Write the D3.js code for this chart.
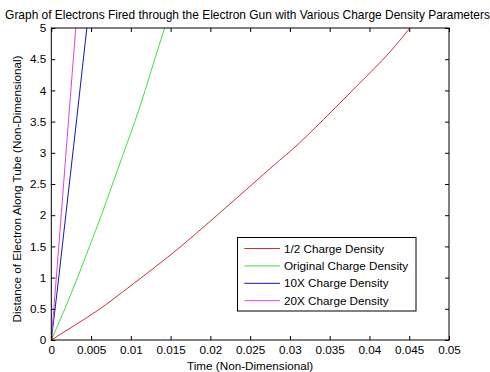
<!DOCTYPE html>
<html>
<head>
<meta charset="utf-8">
<script src="https://cdn.jsdelivr.net/npm/d3@7"></script>
<style>
html,body{margin:0;padding:0;background:#fff;}
svg{display:block;}
text{font-family:"Liberation Sans",Arial,sans-serif;fill:#000;}
</style>
</head>
<body>
<svg id="chart" width="490" height="372"></svg>
<script>
const title = "Graph of Electrons Fired through the Electron Gun with Various Charge Density Parameters";
const xLabel = "Time (Non-Dimensional)";
const yLabel = "Distance of Electron Along Tube (Non-Dimensional)";
const xTicks = [0,0.005,0.01,0.015,0.02,0.025,0.03,0.035,0.04,0.045,0.05];
const xTickLabels = ["0","0.005","0.01","0.015","0.02","0.025","0.03","0.035","0.04","0.045","0.05"];
const yTicks = [0,0.5,1,1.5,2,2.5,3,3.5,4,4.5,5];
const yTickLabels = ["0","0.5","1","1.5","2","2.5","3","3.5","4","4.5","5"];
const seriesNames = ["1/2 Charge Density","Original Charge Density","10X Charge Density","20X Charge Density"];
const seriesColors = ["#d03038","#3ee03e","#1414b8","#e040e0"];

// [time, distance] readings
const halfCharge = [[0,0],[0.003,0.24],[0.0059,0.48],[0.01,0.87],[0.0162,1.49],[0.0204,1.95],[0.0246,2.42],[0.0287,2.88],[0.030,3.02],[0.0342,3.53],[0.0384,4.07],[0.0426,4.62],[0.0451,5.0]];
const originalCharge = [[0,0],[0.0017,0.5],[0.0033,1.0],[0.0048,1.5],[0.0063,2.0],[0.0077,2.5],[0.0091,3.0],[0.0105,3.5],[0.0118,4.0],[0.0130,4.5],[0.01425,5.0]];
const tenXCharge = [[0,0],[0.0008,0.85],[0.0016,1.75],[0.0024,2.65],[0.0032,3.55],[0.0039,4.35],[0.00447,5.0]];
const twentyXCharge = [[0,0],[0.0006,0.95],[0.0012,1.93],[0.0018,2.92],[0.0024,3.9],[0.00307,5.0]];
const allSeries = [halfCharge, originalCharge, tenXCharge, twentyXCharge];

const svg = d3.select("#chart");
const m = {left:51.3, right:449, top:28, bottom:340};
const x = d3.scaleLinear().domain([0,0.05]).range([m.left,m.right]);
const y = d3.scaleLinear().domain([0,5]).range([m.bottom,m.top]);

svg.append("rect").attr("width",490).attr("height",372).attr("fill","#fff");

svg.append("clipPath").attr("id","clip").append("rect")
  .attr("x",m.left).attr("y",m.top).attr("width",m.right-m.left).attr("height",m.bottom-m.top);

const line = d3.line().x(d=>x(d[0])).y(d=>y(d[1])).curve(d3.curveMonotoneX);
const g = svg.append("g").attr("clip-path","url(#clip)");
allSeries.forEach((s,i)=>{
  g.append("path").datum(s).attr("d",line).attr("fill","none")
   .attr("stroke",seriesColors[i]).attr("stroke-width",1);
});

const FS = "11.7px";
const fmtX = (d,i)=>xTickLabels[i];
const fmtY = (d,i)=>yTickLabels[i];
const axB = d3.axisBottom(x).tickValues(xTicks).tickFormat(fmtX).tickSizeInner(-4).tickSizeOuter(0).tickPadding(6);
const axT = d3.axisTop(x).tickValues(xTicks).tickFormat("").tickSizeInner(-4).tickSizeOuter(0);
const axL = d3.axisLeft(y).tickValues(yTicks).tickFormat(fmtY).tickSizeInner(-4).tickSizeOuter(0).tickPadding(5);
const axR = d3.axisRight(y).tickValues(yTicks).tickFormat("").tickSizeInner(-4).tickSizeOuter(0);

function style(sel){
  sel.select(".domain").remove();
  sel.selectAll("line").attr("stroke","#000");
  sel.selectAll("text").attr("font-size",FS).attr("font-family","Liberation Sans, Arial, sans-serif").attr("fill","#000");
}
svg.append("g").attr("transform",`translate(0,${m.bottom})`).call(axB).call(style);
svg.append("g").attr("transform",`translate(0,${m.top})`).call(axT).call(style);
svg.append("g").attr("transform",`translate(${m.left},0)`).call(axL).call(style);
svg.append("g").attr("transform",`translate(${m.right},0)`).call(axR).call(style);

svg.append("rect").attr("x",m.left).attr("y",m.top).attr("width",m.right-m.left).attr("height",m.bottom-m.top)
  .attr("fill","none").attr("stroke","#000").attr("stroke-width",1);

svg.append("text").attr("x",247.5).attr("y",18.5).attr("text-anchor","middle").attr("font-size","11.95px").text(title);
svg.append("text").attr("x",(m.left+m.right)/2).attr("y",369.5).attr("text-anchor","middle").attr("font-size",FS).text(xLabel);
svg.append("text").attr("transform",`translate(20.5,${(m.top+m.bottom)/2+5}) rotate(-90)`).attr("text-anchor","middle").attr("font-size",FS).text(yLabel);

// legend
const lg = svg.append("g");
lg.append("rect").attr("x",237.5).attr("y",237.5).attr("width",178.5).attr("height",73.5)
  .attr("fill","#fff").attr("stroke","#000").attr("stroke-width",1);
seriesNames.forEach((n,i)=>{
  const yy = 248.5 + i*17.4;
  lg.append("line").attr("x1",244.3).attr("x2",280).attr("y1",yy).attr("y2",yy)
    .attr("stroke",seriesColors[i]).attr("stroke-width",1);
  lg.append("text").attr("x",284).attr("y",yy+4).attr("font-size",FS).text(n);
});
</script>
</body>
</html>
